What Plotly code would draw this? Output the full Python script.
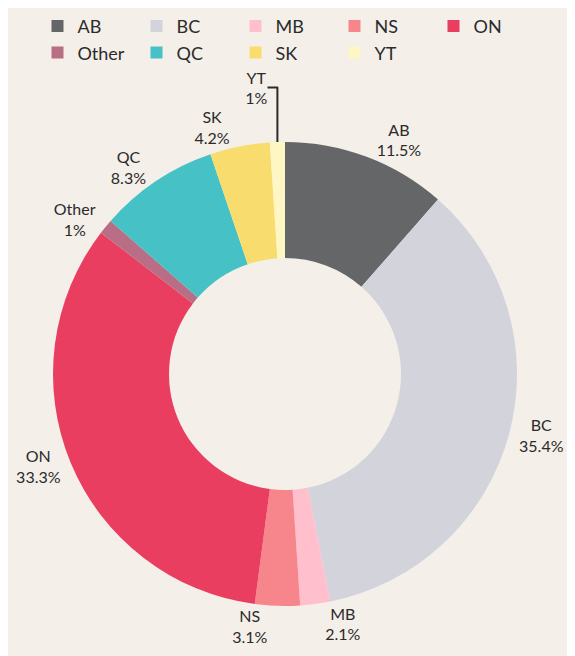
import plotly.graph_objects as go

labels = ["AB", "BC", "MB", "NS", "ON", "Other", "QC", "SK", "YT"]
values = [11, 34, 2, 3, 32, 1, 8, 4, 1]
colors = ["#656667", "#D3D3DB", "#FFBFCC", "#F7858C", "#EA3E61",
          "#B86E84", "#46C2C7", "#F8DD6E", "#FEF7C3"]

total = sum(values)
pct_text = []
for v in values:
    s = f"{v / total * 100:.1f}"
    if s.endswith(".0"):
        s = s[:-2]
    pct_text.append(s + "%")

fig = go.Figure(go.Pie(
    labels=labels,
    values=values,
    text=pct_text,
    texttemplate="%{label}<br>%{text}",
    textposition="outside",
    hole=0.5,
    sort=False,
    direction="clockwise",
    rotation=0,
    marker=dict(colors=colors, line=dict(width=0)),
    textfont=dict(size=16, color="#2b2b2b"),
    hoverinfo="label+percent",
))

fig.update_layout(
    width=575, height=656,
    paper_bgcolor="#F4EFE9",
    plot_bgcolor="#F4EFE9",
    font=dict(family="Lato, 'Open Sans', sans-serif", size=16, color="#2b2b2b"),
    margin=dict(l=0, r=21, t=134, b=58, autoexpand=False),
    legend=dict(
        orientation="h",
        x=0.5, xanchor="center", xref="paper",
        y=1.289, yanchor="top", yref="paper",
        font=dict(size=18, color="#2b2b2b"),
        traceorder="normal",
        entrywidth=54,
    ),
)

fig.write_html("out.html")
